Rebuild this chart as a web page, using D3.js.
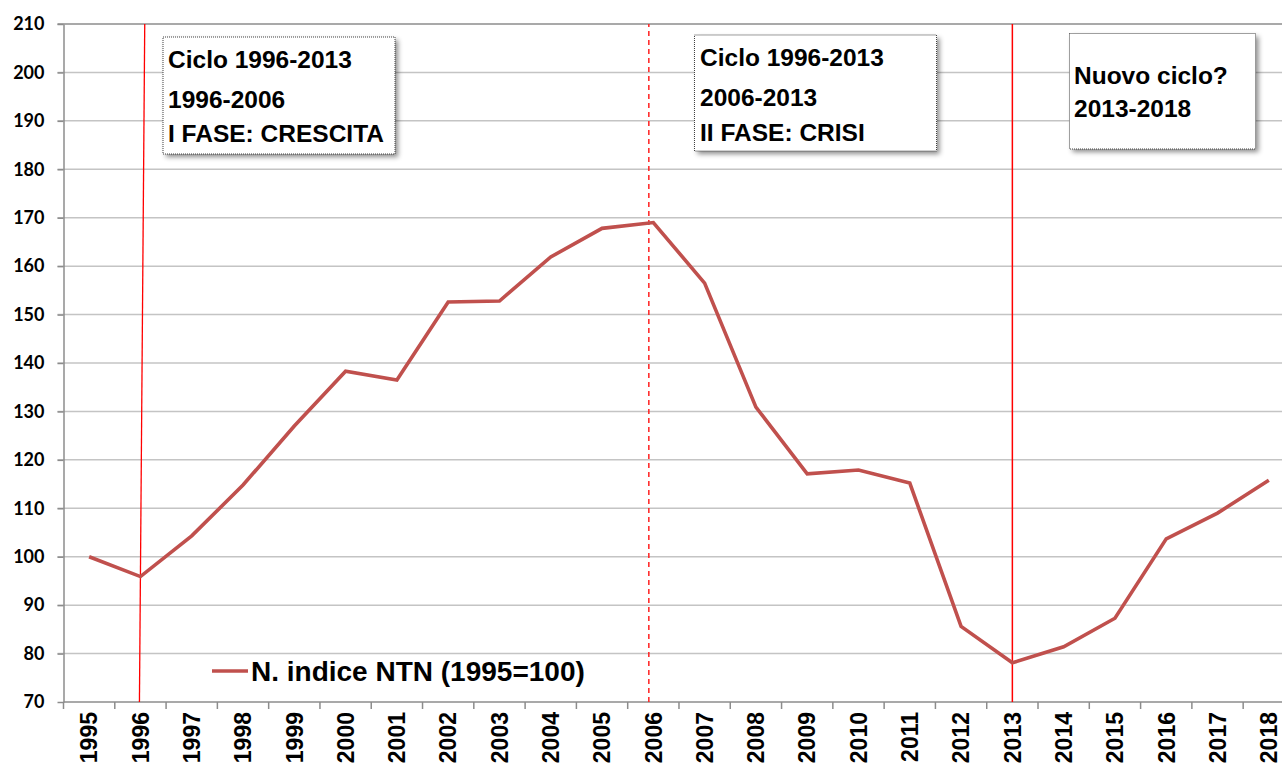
<!DOCTYPE html>
<html>
<head>
<meta charset="utf-8">
<script src="https://cdn.jsdelivr.net/npm/d3@7"></script>
<style>
  html, body { margin: 0; padding: 0; background: #fff; }
  svg { display: block; }
  text { font-family: "Liberation Sans", Arial, sans-serif; font-weight: bold; fill: #000; }
</style>
</head>
<body>
<svg id="chart" width="1282" height="767"></svg>
<script>
const years = ["1995","1996","1997","1998","1999","2000","2001","2002","2003","2004","2005","2006",
               "2007","2008","2009","2010","2011","2012","2013","2014","2015","2016","2017","2018"];
const indexValues = [100, 95.9, 104.3, 114.8, 127.0, 138.3, 136.5, 152.6, 152.8, 161.9, 167.8, 169.0,
                     156.5, 130.9, 117.1, 117.9, 115.2, 85.6, 78.1, 81.4, 87.3, 103.7, 109.0, 115.8];
const yTicks = [70, 80, 90, 100, 110, 120, 130, 140, 150, 160, 170, 180, 190, 200, 210];
const seriesName = "N. indice NTN (1995=100)";
const annotations = [
  { lines: ["Ciclo 1996-2013", "1996-2006", "I FASE: CRESCITA"] },
  { lines: ["Ciclo 1996-2013", "2006-2013", "II FASE: CRISI"] },
  { lines: ["Nuovo ciclo?", "2013-2018"] }
];
const cycleMarks = ["1996", "2006", "2013"];

(function () {
const svg = d3.select("#chart");
const pLeft = 63.5, pTop = 24, pBottom = 702, pRight = 1282;
const bw = 51.29;
const x = d3.scaleBand().domain(years).range([pLeft, pLeft + years.length * bw]).padding(0);
const xc = d => x(d) + x.bandwidth() / 2;
const y = d3.scaleLinear().domain([70, 210]).range([pBottom, pTop]);

// drop shadow filter
const defs = svg.append("defs");
const f = defs.append("filter").attr("id", "shadow").attr("x", "-10%").attr("y", "-10%").attr("width", "130%").attr("height", "140%");
f.append("feDropShadow").attr("dx", 3).attr("dy", 3).attr("stdDeviation", 2.5).attr("flood-color", "#000").attr("flood-opacity", 0.45);

// gridlines
svg.append("g").selectAll("line").data(yTicks.filter(t => t !== 70)).join("line")
  .attr("x1", pLeft - 6).attr("x2", pRight)
  .attr("y1", d => y(d)).attr("y2", d => y(d))
  .attr("stroke", d => d === 210 ? "#8c8c8c" : "#c4c4c4")
  .attr("stroke-width", 1.5);

// y axis
const yAxis = svg.append("g").attr("transform", `translate(${pLeft},0)`)
  .call(d3.axisLeft(y).tickValues(yTicks).tickSize(6).tickSizeOuter(0).tickPadding(13));
yAxis.select(".domain").attr("stroke", "#8c8c8c").attr("stroke-width", 1.5);
yAxis.selectAll(".tick line").attr("stroke", "#8c8c8c").attr("stroke-width", 1.5);
yAxis.selectAll(".tick text").style("font-size", "18px").style("font-family", "Lato").style("font-weight", "bold").attr("fill", "#000");

// x axis line
svg.append("line").attr("x1", pLeft).attr("x2", pRight).attr("y1", pBottom).attr("y2", pBottom)
  .attr("stroke", "#8c8c8c").attr("stroke-width", 1.5);
// x boundary ticks
const bounds = years.map(d => x(d)).concat([x(years[years.length - 1]) + x.bandwidth()]);
svg.append("g").selectAll("line").data(bounds).join("line")
  .attr("x1", d => d).attr("x2", d => d).attr("y1", pBottom).attr("y2", pBottom + 7)
  .attr("stroke", "#8c8c8c").attr("stroke-width", 1.5);
// x labels
svg.append("g").selectAll("text").data(years).join("text")
  .attr("transform", d => `translate(${xc(d)},${pBottom + 10}) rotate(-90)`)
  .attr("text-anchor", "end").attr("dy", "0.36em")
  .style("font-size", "23px")
  .text(d => d);

// cycle marker lines
const m1 = xc(cycleMarks[0]);
svg.append("line").attr("x1", m1 - 1).attr("y1", pBottom).attr("x2", m1 + 4.3).attr("y2", pTop)
  .attr("stroke", "#ff0000").attr("stroke-width", 1.3);
const m2 = xc(cycleMarks[1]) - 4.5;
svg.append("line").attr("x1", m2).attr("y1", pBottom).attr("x2", m2).attr("y2", pTop)
  .attr("stroke", "#ff2020").attr("stroke-width", 1.5).attr("stroke-dasharray", "5,4");
const m3 = xc(cycleMarks[2]);
svg.append("line").attr("x1", m3).attr("y1", pBottom).attr("x2", m3).attr("y2", pTop)
  .attr("stroke", "#ff0000").attr("stroke-width", 1.5);

// data line
const line = d3.line().x((d, i) => xc(years[i])).y(d => y(d));
svg.append("path").datum(indexValues)
  .attr("d", line).attr("fill", "none")
  .attr("stroke", "#c0504d").attr("stroke-width", 3.6).attr("stroke-linejoin", "miter");

// legend
const lg = svg.append("g");
lg.append("line").attr("x1", 212).attr("x2", 248).attr("y1", 671).attr("y2", 671)
  .attr("stroke", "#c0504d").attr("stroke-width", 3.6);
lg.append("text").attr("x", 251).attr("y", 681).style("font-size", "28px").text(seriesName);

// annotation boxes
const boxes = [
  { x: 163, y: 37, w: 232, h: 117, tx: 168, base: [68, 108, 142] },
  { x: 694.5, y: 35, w: 242, h: 116, tx: 700, base: [66, 106, 141] },
  { x: 1069.5, y: 33.5, w: 186, h: 115.5, tx: 1074, base: [84, 117] }
];
annotations.forEach((a, i) => {
  const b = boxes[i];
  const g = svg.append("g");
  g.append("rect").attr("x", b.x).attr("y", b.y).attr("width", b.w).attr("height", b.h)
    .attr("fill", "#fff").attr("filter", "url(#shadow)");
  g.append("rect").attr("x", b.x).attr("y", b.y).attr("width", b.w).attr("height", b.h)
    .attr("fill", "#fff").attr("stroke", "#404040").attr("stroke-width", 1).attr("stroke-dasharray", "1,1");
  a.lines.forEach((t, j) => {
    g.append("text").attr("x", b.tx).attr("y", b.base[j]).style("font-size", "24.5px").text(t);
  });
});
})();
</script>
</body>
</html>
